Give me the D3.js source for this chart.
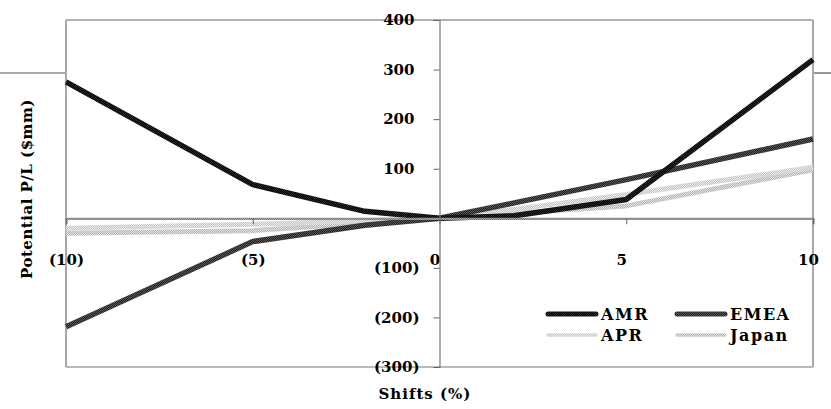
<!DOCTYPE html>
<html>
<head>
<meta charset="utf-8">
<script src="https://cdn.jsdelivr.net/npm/d3@7"></script>
<style>
  html, body { margin: 0; padding: 0; background: #fff; }
  svg { display: block; }
  text { font-family: "DejaVu Serif", "Liberation Serif", serif; fill: #000; }
</style>
</head>
<body>
<svg id="chart" width="831" height="409"></svg>
<script>
// Shift scenarios (%) and potential P/L ($mm) by region
const shifts = [-10, -5, -2, 0, 2, 5, 10];
const amr   = [275, 68, 14, 0, 5, 38, 320];
const emea  = [-219, -47, -14, 0, 31, 78, 160];
const apr   = [-20, -12, -5, 0, 18, 48, 103];
const japan = [-30, -25, -10, 0, 10, 25, 98];

const seriesNames = ["AMR", "EMEA", "APR", "Japan"];
const xTicks = [-10, -5, 0, 5, 10];
const yTicks = [-300, -200, -100, 100, 200, 300, 400];

const svg = d3.select("#chart");
const W = 831, H = 409;
const plot = { left: 66, right: 813, top: 20, bottom: 367 };

const x = d3.scaleLinear().domain([-10, 10]).range([plot.left, plot.right]);
const y = d3.scaleLinear().domain([-300, 400]).range([plot.bottom, plot.top]);

// Textured stroke fills
const defs = svg.append("defs");
function checker(id, a, b) {
  const p = defs.append("pattern").attr("id", id)
    .attr("patternUnits", "userSpaceOnUse").attr("width", 2).attr("height", 2);
  p.append("rect").attr("width", 2).attr("height", 2).attr("fill", a);
  p.append("rect").attr("width", 1).attr("height", 1).attr("fill", b);
  p.append("rect").attr("x", 1).attr("y", 1).attr("width", 1).attr("height", 1).attr("fill", b);
}
checker("pAMR", "#000", "#2a2a2a");
checker("pEMEA", "#222", "#555");
checker("pAPR", "#c4c4c4", "#ececec");
checker("pJapan", "#b4b4b4", "#e2e2e2");
checker("pZero", "#666", "#bbb");

const styles = {
  AMR:   { stroke: "url(#pAMR)",   width: 5.5 },
  EMEA:  { stroke: "url(#pEMEA)",  width: 5.5 },
  APR:   { stroke: "url(#pAPR)",   width: 5 },
  Japan: { stroke: "url(#pJapan)", width: 5 }
};

// Decorative rule across the slide
svg.append("line").attr("x1", 0).attr("x2", plot.left).attr("y1", 73).attr("y2", 73)
  .attr("stroke", "#555").attr("stroke-width", 1.2);
svg.append("line").attr("x1", plot.right).attr("x2", W).attr("y1", 73).attr("y2", 73)
  .attr("stroke", "#555").attr("stroke-width", 1.2);

// Plot frame
svg.append("line").attr("x1", plot.left).attr("x2", plot.right).attr("y1", plot.top).attr("y2", plot.top)
  .attr("stroke", "#666").attr("stroke-width", 1.2);
svg.append("line").attr("x1", plot.left).attr("x2", plot.right).attr("y1", plot.bottom).attr("y2", plot.bottom)
  .attr("stroke", "#777").attr("stroke-width", 1.2);
svg.append("line").attr("x1", plot.left).attr("x2", plot.left).attr("y1", plot.top).attr("y2", plot.bottom)
  .attr("stroke", "#a8a8a8").attr("stroke-width", 2);
svg.append("line").attr("x1", plot.right).attr("x2", plot.right).attr("y1", plot.top).attr("y2", plot.bottom)
  .attr("stroke", "#a8a8a8").attr("stroke-width", 2);

// Series lines
const data = { AMR: amr, EMEA: emea, APR: apr, Japan: japan };
const line = d3.line().x(d => x(d[0])).y(d => y(d[1]));
const drawOrder = ["Japan", "APR", "EMEA", "AMR"];
drawOrder.forEach(name => {
  svg.append("path")
    .datum(shifts.map((s, i) => [s, data[name][i]]))
    .attr("d", line)
    .attr("fill", "none")
    .attr("stroke", styles[name].stroke)
    .attr("stroke-width", styles[name].width)
    .attr("stroke-linejoin", "round");
});

// Number format with accounting-style parentheses for negatives
const fmt = v => v < 0 ? "(" + Math.abs(v) + ")" : String(v);

// Horizontal axis through zero
const xAxis = d3.axisBottom(x).tickValues(xTicks).tickSize(6).tickFormat(fmt);
const gx = svg.append("g").attr("transform", `translate(0,${y(0)})`).call(xAxis);
gx.select(".domain").attr("stroke", "url(#pZero)").attr("stroke-width", 2.2);
gx.selectAll(".tick line").attr("stroke", "#666");
gx.selectAll(".tick text")
  .attr("y", 36)
  .attr("dx", d => d < 0 ? 0 : -5)
  .style("font-family", '"DejaVu Serif", serif')
  .style("font-weight", "bold").style("font-size", "15px");

// Vertical axis through zero
const yAxis = d3.axisLeft(y).tickValues(yTicks).tickSize(6).tickFormat(fmt);
const gy = svg.append("g").attr("transform", `translate(${x(0)},0)`).call(yAxis);
gy.select(".domain").attr("stroke", "#777").attr("stroke-width", 1.2);
gy.selectAll(".tick line").attr("stroke", "#666");
gy.selectAll(".tick text")
  .attr("x", d => d < 0 ? -20 : -25)
  .attr("dy", "0.32em")
  .style("font-family", '"DejaVu Serif", serif')
  .style("font-weight", "bold").style("font-size", "15px");

// Axis titles
svg.append("text")
  .attr("transform", `translate(32,${189}) rotate(-90)`)
  .attr("text-anchor", "middle")
  .style("font-weight", "bold").style("font-size", "15px").style("letter-spacing", "0.5px")
  .text("Potential P/L ($mm)");
svg.append("text")
  .attr("x", 425).attr("y", 399)
  .attr("text-anchor", "middle")
  .style("font-weight", "bold").style("font-size", "15px").style("letter-spacing", "1px")
  .text("Shifts (%)");

// Legend
const legendPos = [
  { name: "AMR",   lx: 548, ly: 314 },
  { name: "EMEA",  lx: 677, ly: 314 },
  { name: "APR",   lx: 548, ly: 335 },
  { name: "Japan", lx: 677, ly: 335 }
];
const lg = svg.append("g");
legendPos.forEach(p => {
  const st = styles[p.name];
  lg.append("line")
    .attr("x1", p.lx).attr("x2", p.lx + 48).attr("y1", p.ly).attr("y2", p.ly)
    .attr("stroke", st.stroke)
    .attr("stroke-width", p.name === "AMR" || p.name === "EMEA" ? 5 : 3.5)
    .attr("stroke-linecap", "round");
  lg.append("text")
    .attr("x", p.lx + 53).attr("y", p.ly + 6)
    .style("font-size", "16px").style("font-weight", "bold").style("letter-spacing", "1.5px")
    .text(p.name);
});
</script>
</body>
</html>
